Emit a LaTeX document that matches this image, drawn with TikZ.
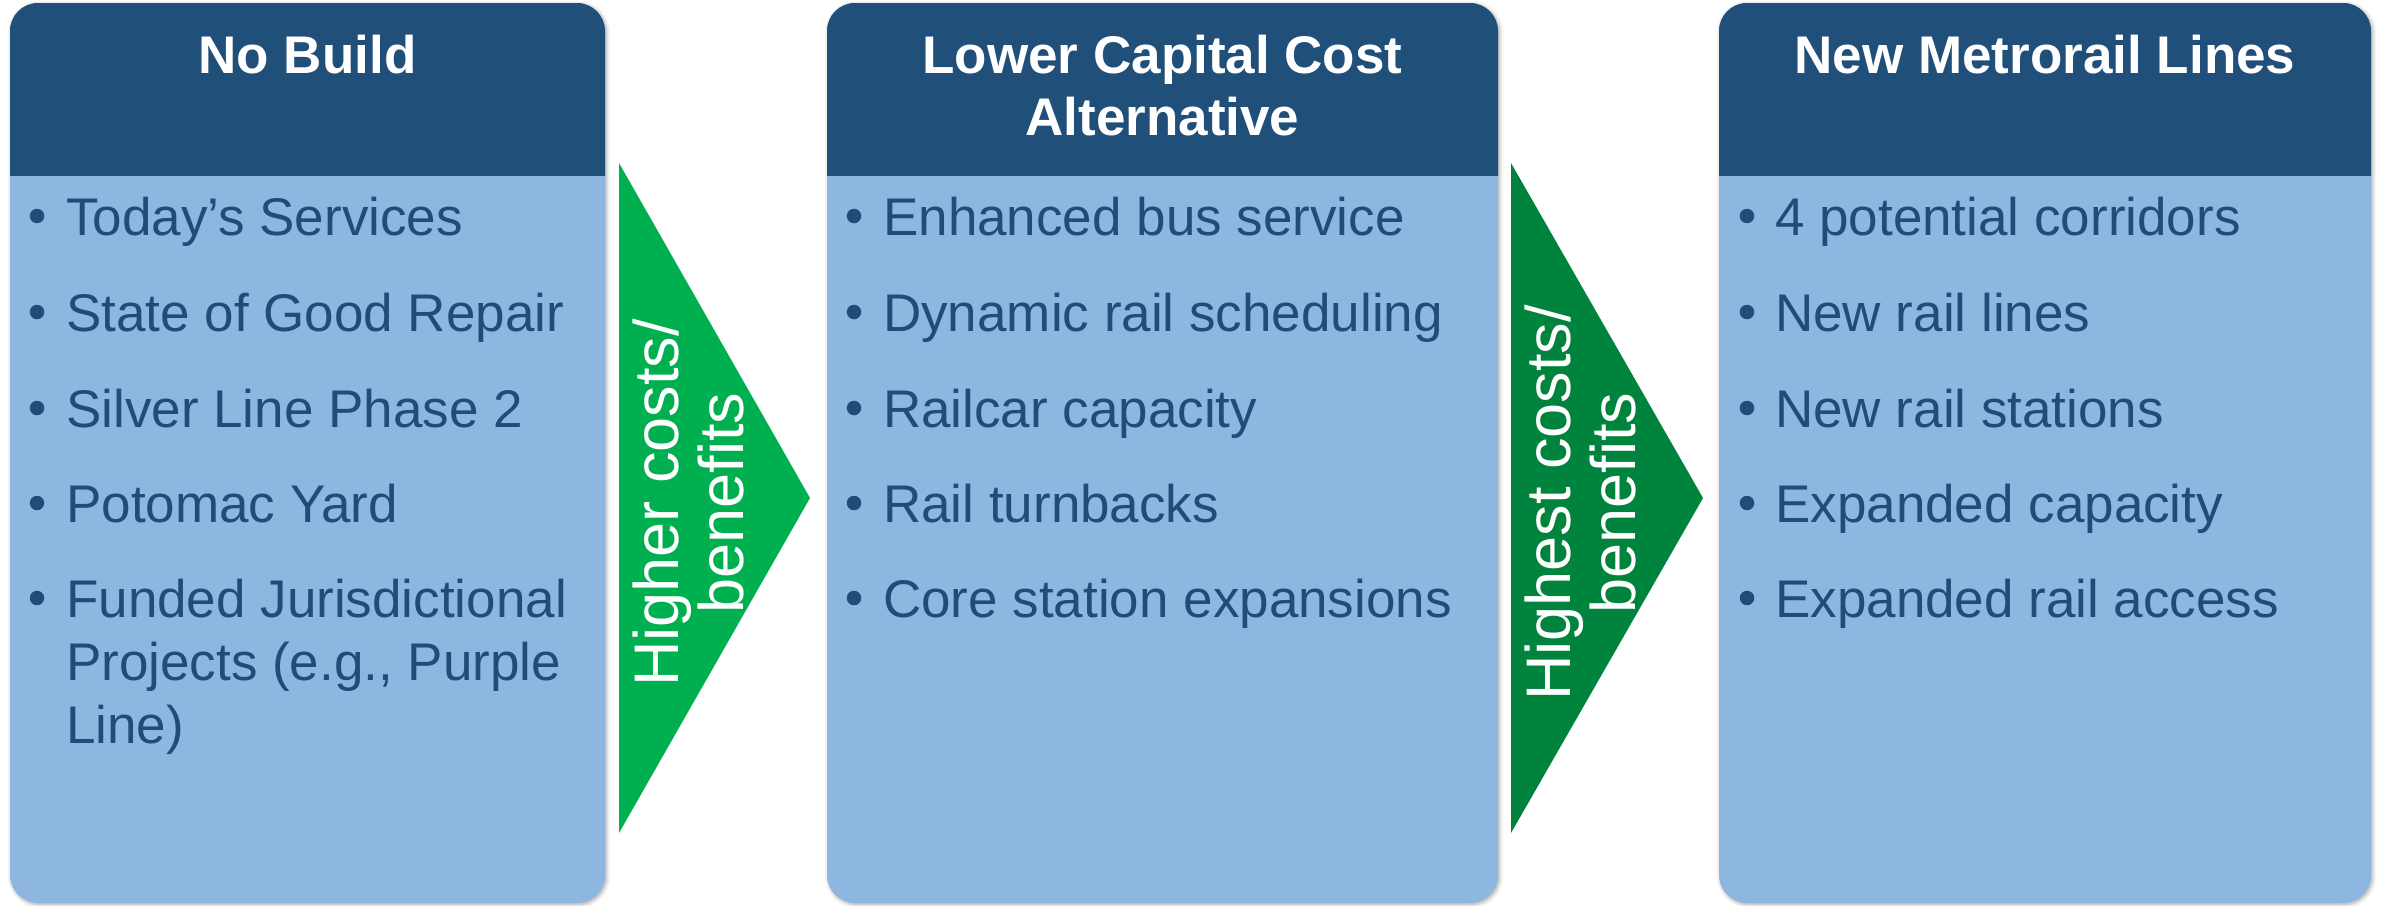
\documentclass[tikz,border=0pt]{standalone}
\usepackage{fontspec}
\setmainfont{Liberation Sans}
\usetikzlibrary{shadows.blur}

\definecolor{headblue}{RGB}{32,79,121}
\definecolor{bodyblue}{RGB}{141,182,225}
\definecolor{textblue}{RGB}{33,76,120}
\definecolor{greenA}{RGB}{0,176,80}
\definecolor{greenB}{RGB}{0,132,61}

\tikzset{
  panelbody/.style={fill=bodyblue, rounded corners=28pt,
    blur shadow={shadow xshift=1.5pt, shadow yshift=-1.5pt,
      shadow blur radius=4pt, shadow opacity=35}},
  panelhead/.style={fill=headblue, rounded corners=28pt},
  headtext/.style={text=white, inner sep=0pt, anchor=base,
    font=\fontsize{53}{61}\selectfont\bfseries},
  itemtext/.style={text=textblue, inner sep=0pt, anchor=base west,
    font=\fontsize{53}{63}\selectfont},
  bulletdot/.style={circle, fill=textblue, inner sep=0pt, minimum size=14.5pt},
  arrowtext/.style={text=white, inner sep=0pt, anchor=base, rotate=90,
    font=\fontsize{63}{65}\selectfont},
}

% one column: rounded body, dark header band clipped from the same shape
\newcommand{\column}[2]{%
  \path[panelbody] (#1,3) rectangle (#2,903);
  \begin{scope}
    \clip (#1,0) rectangle (#2,175);
    \path[panelhead] (#1,3) rectangle (#2,903);
  \end{scope}}

\begin{document}
\begin{tikzpicture}[x=1pt,y=-1pt]
\useasboundingbox (0,0) rectangle (2382,905);

% ---------------- columns ----------------
\column{10}{605}
\column{827}{1498}
\column{1719}{2371}

% ---------------- headers ----------------
\node[headtext] (h1) at (307.5,73) {No Build};
\node[headtext] (h2a) at (1162.5,73) {Lower Capital Cost};
\node[headtext] (h2b) at (1162.5,135) {Alternative};
\node[headtext] (h3) at (2045,73) {New Metrorail Lines};

% ---------------- bullet dots (19 above each baseline) ----------------
\foreach \x/\c in {37/1,854/2,1747/3}
  \foreach \y/\n in {235/1,331/2,427/3,522/4,617/5}
    \node[bulletdot] (b\c\n) at (\x,\y-19) {};

% ---------------- column 1 items ----------------
\node[itemtext] (i11) at (66,235) {Today’s Services};
\node[itemtext] (i12) at (66,331) {State of Good Repair};
\node[itemtext] (i13) at (66,427) {Silver Line Phase 2};
\node[itemtext] (i14) at (66,522) {Potomac Yard};
\node[itemtext] (i15) at (66,617) {Funded Jurisdictional};
\node[itemtext] (i15b) at (66,680) {Projects (e.g., Purple};
\node[itemtext] (i15c) at (66,743) {Line)};

% ---------------- column 2 items ----------------
\node[itemtext] (i21) at (883,235) {Enhanced bus service};
\node[itemtext] (i22) at (883,331) {Dynamic rail scheduling};
\node[itemtext] (i23) at (883,427) {Railcar capacity};
\node[itemtext] (i24) at (883,522) {Rail turnbacks};
\node[itemtext] (i25) at (883,617) {Core station expansions};

% ---------------- column 3 items ----------------
\node[itemtext] (i31) at (1775,235) {4 potential corridors};
\node[itemtext] (i32) at (1775,331) {New rail lines};
\node[itemtext] (i33) at (1775,427) {New rail stations};
\node[itemtext] (i34) at (1775,522) {Expanded capacity};
\node[itemtext] (i35) at (1775,617) {Expanded rail access};

% ---------------- arrows ----------------
\fill[greenA] (619,163) -- (810,498) -- (619,833) -- cycle;
\node[arrowtext] (a1a) at (678,503) {Higher costs/};
\node[arrowtext] (a1b) at (743,503) {benefits};

\fill[greenB] (1511,163) -- (1703,498) -- (1511,833) -- cycle;
\node[arrowtext] (a2a) at (1570,503) {Highest costs/};
\node[arrowtext] (a2b) at (1635,503) {benefits};
\end{tikzpicture}
\end{document}
